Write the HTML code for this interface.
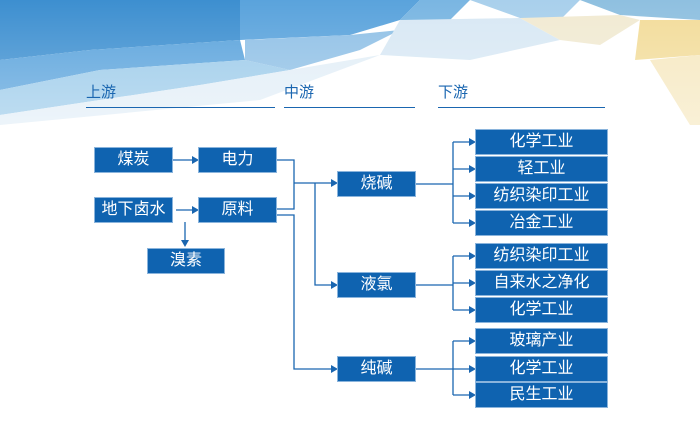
<!DOCTYPE html>
<html><head><meta charset="utf-8"><style>
body{margin:0;width:700px;height:433px;overflow:hidden;background:#fff;font-family:"Liberation Sans","Noto Sans CJK SC",sans-serif;position:relative}
.b{position:absolute;background:#0f63b0;color:#fff;font-size:16px;text-align:center;line-height:24px;height:24px;box-shadow:0 0 0 1px #8ab4dc}
.h{position:absolute;color:#1a66b0;font-size:15px}
.l{position:absolute;height:1px;background:#1a66b0}
svg{position:absolute;left:0;top:0}
</style></head><body>
<svg width="700" height="433">
<defs><linearGradient id="g" x1="0" y1="0" x2="0" y2="1"><stop offset="0" stop-color="#fff" stop-opacity="0"/><stop offset="1" stop-color="#fff"/></linearGradient></defs>
<polygon points="0,0 260,0 240,40 90,50 0,60" fill="#3d8fd0"/>
<polygon points="0,60 90,50 240,40 245,60 100,70 0,90" fill="#5aa3dc"/>
<polygon points="240,0 420,0 400,20 350,35 240,40" fill="#5aa3dc"/>
<polygon points="420,0 470,0 450,20 400,20" fill="#7ab6e2"/>
<polygon points="0,90 100,70 245,60 290,70 200,85 0,115" fill="#9ccbea"/>
<polygon points="245,40 350,35 400,30 360,50 290,70 245,60" fill="#8fc0e6"/>
<polygon points="400,20 520,18 560,40 470,60 380,55" fill="#d8e8f4"/>
<polygon points="470,0 580,0 560,20 520,18" fill="#a9d0ec"/>
<polygon points="520,18 620,15 640,20 600,45 560,40" fill="#f1ead2"/>
<polygon points="580,0 700,0 700,20 620,15" fill="#8fc0e0"/>
<polygon points="640,20 700,20 700,55 635,60" fill="#f2dc9a"/>
<polygon points="650,60 700,55 700,125 690,125" fill="#f6e8c0"/>
<polygon points="0,115 200,85 290,70 380,55 260,100 0,125" fill="#e2eef7"/>
<rect x="0" y="0" width="700" height="125" fill="url(#g)" opacity="0.35"/>
<rect x="310" y="85" width="300" height="40" fill="#fff"/>
<g stroke="#1a66b0" stroke-width="1.3" fill="none">
<path d="M173 160H192M176 210H192M185 222V240M276 160H294V209H276M294 183H331M276 215H294V369H331M315 183V285H331"/>
<path d="M415 184H453M453 142V223M453 142H469M453 169H469M453 196H469M453 223H469"/>
<path d="M415 285H453M453 256V310M453 256H469M453 283H469M453 310H469"/>
<path d="M415 369H453M453 341V395M453 341H469M453 369H469M453 395H469"/>
</g>
<g fill="#1a66b0">
<path d="M192 156L199 160L192 164Z"/><path d="M192 206L199 210L192 214Z"/><path d="M181 240L185 247L189 240Z"/>
<path d="M331 179L338 183L331 187Z"/><path d="M331 281L338 285L331 289Z"/><path d="M331 365L338 369L331 373Z"/>
<path d="M469 138L476 142L469 146Z"/><path d="M469 165L476 169L469 173Z"/><path d="M469 192L476 196L469 200Z"/><path d="M469 219L476 223L469 227Z"/>
<path d="M469 252L476 256L469 260Z"/><path d="M469 279L476 283L469 287Z"/><path d="M469 306L476 310L469 314Z"/>
<path d="M469 337L476 341L469 345Z"/><path d="M469 365L476 369L469 373Z"/><path d="M469 391L476 395L469 399Z"/>
</g>
</svg>
<div class="h" style="left:86px;top:81px">上游</div><div class="l" style="left:86px;top:107px;width:189px"></div>
<div class="h" style="left:284px;top:81px">中游</div><div class="l" style="left:284px;top:107px;width:131px"></div>
<div class="h" style="left:438px;top:81px">下游</div><div class="l" style="left:438px;top:107px;width:167px"></div>
<div class="b" style="left:95px;top:148px;width:77px">煤炭</div>
<div class="b" style="left:199px;top:148px;width:77px">电力</div>
<div class="b" style="left:95px;top:198px;width:77px">地下卤水</div>
<div class="b" style="left:199px;top:198px;width:77px">原料</div>
<div class="b" style="left:148px;top:249px;width:76px">溴素</div>
<div class="b" style="left:338px;top:172px;width:77px">烧碱</div>
<div class="b" style="left:338px;top:273px;width:77px">液氯</div>
<div class="b" style="left:338px;top:357px;width:77px">纯碱</div>
<div class="b" style="left:476px;top:130px;width:131px">化学工业</div>
<div class="b" style="left:476px;top:157px;width:131px">轻工业</div>
<div class="b" style="left:476px;top:184px;width:131px">纺织染印工业</div>
<div class="b" style="left:476px;top:211px;width:131px">冶金工业</div>
<div class="b" style="left:476px;top:244px;width:131px">纺织染印工业</div>
<div class="b" style="left:476px;top:271px;width:131px">自来水之净化</div>
<div class="b" style="left:476px;top:298px;width:131px">化学工业</div>
<div class="b" style="left:476px;top:329px;width:131px">玻璃产业</div>
<div class="b" style="left:476px;top:357px;width:131px">化学工业</div>
<div class="b" style="left:476px;top:383px;width:131px">民生工业</div>
</body></html>
